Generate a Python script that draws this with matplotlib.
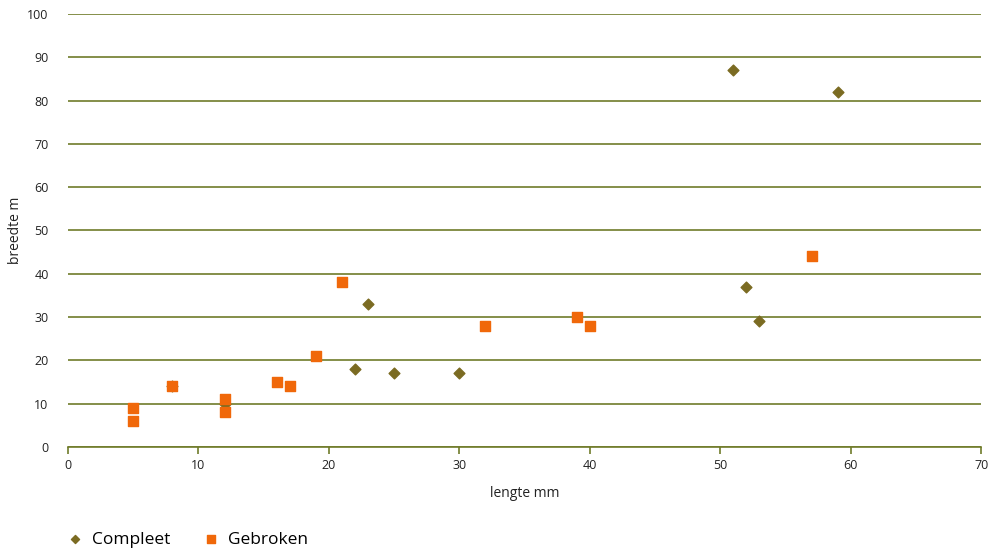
import matplotlib.pyplot as plt

# Compleet (diamonds)
compleet_x = [8, 12, 22, 23, 25, 30, 51, 52, 53, 59]
compleet_y = [14, 10, 18, 33, 17, 17, 87, 37, 29, 82]
# Gebroken (squares)
gebroken_x = [5, 5, 8, 12, 12, 16, 17, 19, 21, 32, 39, 40, 57]
gebroken_y = [9, 6, 14, 11, 8, 15, 14, 21, 38, 28, 30, 28, 44]

x_ticks = [0, 10, 20, 30, 40, 50, 60, 70]
y_ticks = [0, 10, 20, 30, 40, 50, 60, 70, 80, 90, 100]

grid_col = '#6f7b2a'
dia_col = '#7b6b22'
sq_col = '#f0680a'

plt.rcParams['font.family'] = ['Open Sans', 'DejaVu Sans']

fig = plt.figure(figsize=(9.93, 5.48), dpi=100)
ax = fig.add_axes([0.0685, 0.1843, 0.9195, 0.7902])

ax.scatter(compleet_x, compleet_y, marker='D', s=30, color=dia_col, label='Compleet', zorder=3)
ax.scatter(gebroken_x, gebroken_y, marker='s', s=50, color=sq_col, label='Gebroken', zorder=4)

ax.set_xlim(0, 70)
ax.set_ylim(0, 100)
ax.set_xticks(x_ticks)
ax.set_yticks(y_ticks)
ax.yaxis.grid(True, color=grid_col, linewidth=1.2)
ax.set_axisbelow(True)
for s in ['top', 'right', 'left']:
    ax.spines[s].set_visible(False)
ax.spines['bottom'].set_color(grid_col)
ax.spines['bottom'].set_linewidth(1.2)
ax.tick_params(axis='x', colors=grid_col, length=5, width=1.2, labelcolor='#222222', labelsize=9)
ax.tick_params(axis='y', length=0, pad=14, labelcolor='#222222', labelsize=9)

ax.set_xlabel('lengte mm', fontsize=10, color='#222222', labelpad=10)
ax.set_ylabel('breedte m', fontsize=10, color='#222222', labelpad=3)

leg = fig.legend(loc='lower left', bbox_to_anchor=(0.052, -0.028), ncol=2, frameon=False,
                 fontsize=12.5, handlelength=0.9, handletextpad=0.55, columnspacing=1.85,
                 markerscale=0.75)

fig.savefig('out.png', dpi=100)
